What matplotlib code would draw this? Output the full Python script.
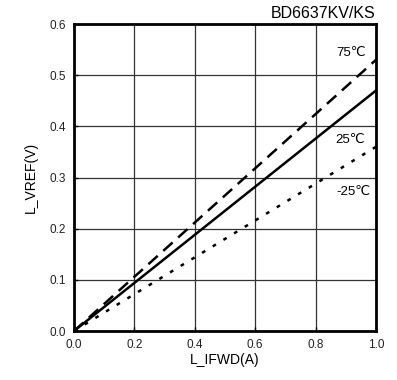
import matplotlib
matplotlib.use("Agg")
import matplotlib.pyplot as plt
import numpy as np

plt.rcParams['font.family'] = ['Liberation Sans', 'DejaVu Sans', 'Noto Sans CJK SC']

current = [0.0, 1.0]
v_75 = [0.0, 0.53]
v_25 = [0.0, 0.47]
v_m25 = [0.0, 0.36]
xticks = [0.0, 0.2, 0.4, 0.6, 0.8, 1.0]
yticks = [0.0, 0.1, 0.2, 0.3, 0.4, 0.5, 0.6]

fig = plt.figure(figsize=(3.97, 3.80), dpi=100)
ax = fig.add_axes([74/397, 1-331/380, (376-74)/397, (331-24)/380])

ax.plot(current, v_75, color='black', lw=1.8, linestyle=(0, (5, 3)))
ax.plot(current, v_25, color='black', lw=1.8, linestyle='-')
ax.plot(current, v_m25, color='black', lw=1.8, linestyle=(0, (1.5, 3.5)))

ax.set_xlim(0, 1.0)
ax.set_ylim(0, 0.6)
ax.set_xticks(xticks)
ax.set_yticks(yticks)
ax.set_xticklabels([f"{t:.1f}" for t in xticks], fontsize=8.5, color='#222222')
ax.set_yticklabels([f"{t:.1f}" for t in yticks], fontsize=8.5, color='#222222')
ax.tick_params(direction='in', length=3, width=1, pad=6)
ax.grid(True, color='#333333', linewidth=0.9)
for s in ax.spines.values():
    s.set_linewidth(2)

ax.set_xlabel('L_IFWD(A)', fontsize=10, labelpad=1)
ax.set_ylabel('L_VREF(V)', fontsize=10, labelpad=8)

ax.text(0.967, 0.543, '75℃', fontsize=9.5, ha='right', va='center')
ax.text(0.965, 0.373, '25℃', fontsize=9.5, ha='right', va='center')
ax.text(0.983, 0.272, '-25℃', fontsize=9.5, ha='right', va='center')
fig.text(376/397, 1-13/380, 'BD6637KV/KS', fontsize=11.5, ha='right', va='center')

fig.savefig('out.png', dpi=100)
